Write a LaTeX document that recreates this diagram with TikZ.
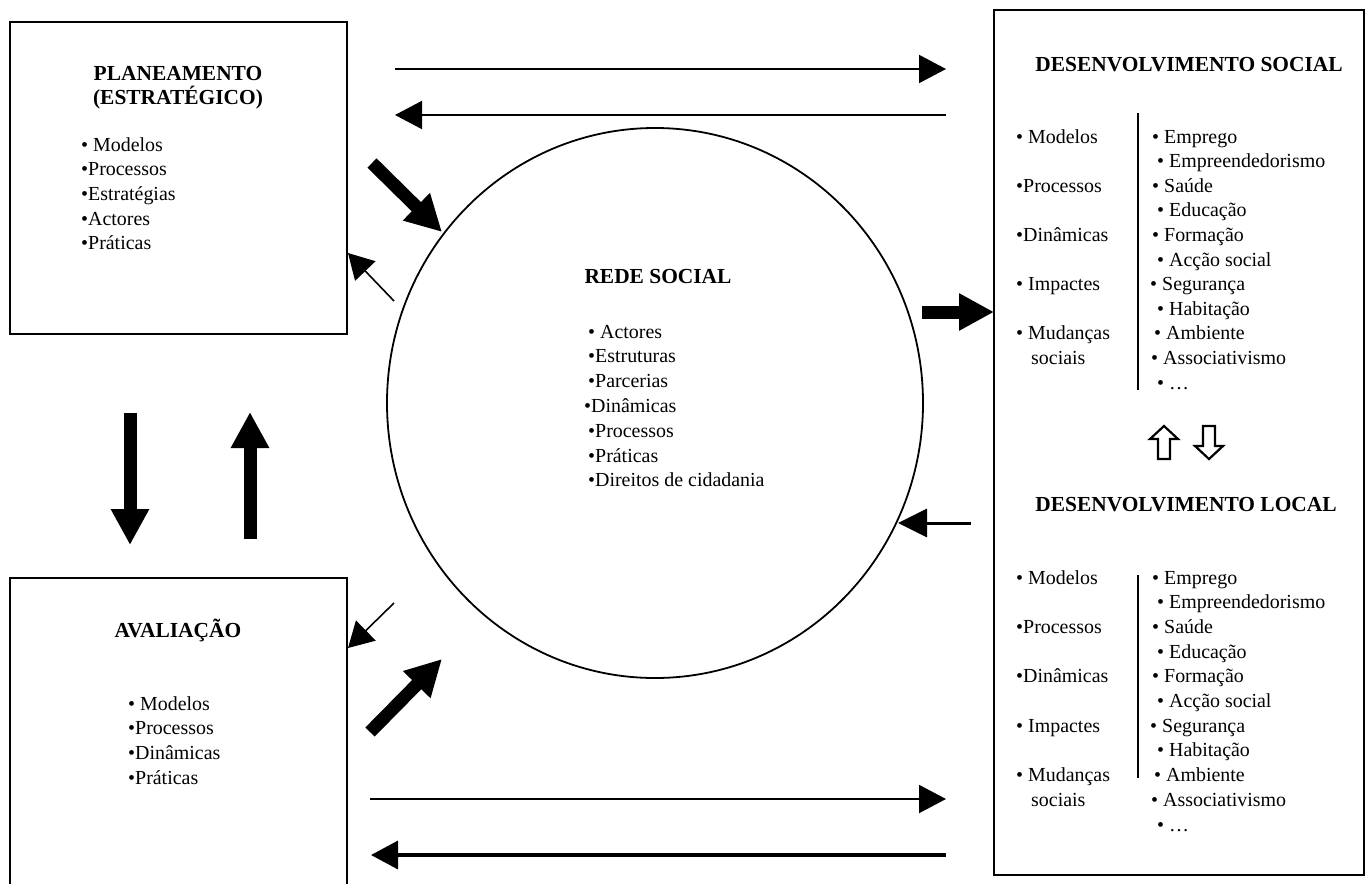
\documentclass[tikz,border=0pt]{standalone}
\usepackage{fontspec}
\setmainfont{Liberation Serif}
\usetikzlibrary{arrows.meta,shapes.geometric}
\begin{document}
\begin{tikzpicture}[x=1bp,y=-1bp,
  txt/.style={anchor=base west, inner sep=0pt, font=\fontsize{20}{24}\selectfont},
  head/.style={anchor=base, inner sep=0pt, font=\fontsize{21.5}{24}\selectfont\bfseries},
  box/.style={line width=2.5bp},
  thinarrow/.style={line width=2bp, -{Triangle[length=27bp,width=28bp]}},
  diagarrow/.style={line width=1.6bp, -{Triangle[length=25bp,width=28bp]}},
  thickarrow/.style={line width=13bp, -{Triangle[length=36bp,width=36bp]}},
  hollow/.style={line width=2.2bp, line join=miter, fill=white},
]
\useasboundingbox (0,0) rectangle (1367,883);

% boxes
\draw[box] (10,22) rectangle (347,334);
\draw[box] (10,890) -- (10,578) -- (347,578) -- (347,890);
\draw[box] (994,10) rectangle (1364,875);

% ellipse
\node[draw, line width=1.8bp, ellipse, minimum width=536bp, minimum height=550bp, inner sep=0pt] (rede) at (655,403) {};

% planeamento
\node[head] (plh1) at (178,80) {PLANEAMENTO};
\node[head] (plh2) at (178,104) {(ESTRATÉGICO)};
\foreach \t [count=\i] in {{• Modelos},{•Processos},{•Estratégias},{•Actores},{•Práticas}}
  \node[txt] (pl\i) at ({81},{151+24.7*(\i-1)}) {\t};

% avaliacao
\node[head] (avh) at (178,637) {AVALIAÇÃO};
\foreach \t [count=\i] in {{• Modelos},{•Processos},{•Dinâmicas},{•Práticas}}
  \node[txt] (av\i) at ({128},{710+24.7*(\i-1)}) {\t};

% rede social
\node[head] (rsh) at (658,283) {REDE SOCIAL};
\foreach \dx/\t [count=\i] in {4/{• Actores},4/{•Estruturas},4/{•Parcerias},0/{•Dinâmicas},4/{•Processos},4/{•Práticas},4/{•Direitos de cidadania}}
  \node[txt] (rs\i) at ({584+\dx},{338+24.8*(\i-1)}) {\t};

% desenvolvimento social
\node[head] (dsh) at (1189,71) {DESENVOLVIMENTO SOCIAL};
\foreach \yy/\t [count=\i] in {0/{• Modelos},2/{•Processos},4/{•Dinâmicas},6/{• Impactes},8/{• Mudanças}}
  \node[txt] (dsl\i) at ({1016},{143+24.6*\yy}) {\t};
\node[txt] (dsl6) at (1031,{143+24.6*9}) {sociais};
\foreach \dx/\t [count=\i] in {2/{• Emprego},7/{• Empreendedorismo},2/{• Saúde},7/{• Educação},2/{• Formação},7/{• Acção social},0/{• Segurança},7/{• Habitação},4/{• Ambiente},1/{• Associativismo},7/{• …}}
  \node[txt] (dsr\i) at ({1150+\dx},{143+24.6*(\i-1)}) {\t};
\coordinate (dsv1) at (1138,113);
\coordinate (dsv2) at (1138,390);
\draw[line width=2bp] (dsv1) -- (dsv2);

% hollow arrows
\draw[hollow] (1164,426) -- (1178,439) -- (1170,439) -- (1170,459) -- (1158,459) -- (1158,439) -- (1150,439) -- cycle;
\draw[hollow] (1209,459) -- (1223,446) -- (1215,446) -- (1215,426) -- (1203,426) -- (1203,446) -- (1195,446) -- cycle;

% desenvolvimento local
\node[head] (dlh) at (1186,511) {DESENVOLVIMENTO LOCAL};
\foreach \yy/\t [count=\i] in {0/{• Modelos},2/{•Processos},4/{•Dinâmicas},6/{• Impactes},8/{• Mudanças}}
  \node[txt] (dll\i) at ({1016},{584+24.7*\yy}) {\t};
\node[txt] (dll6) at (1031,{584+24.7*9}) {sociais};
\foreach \dx/\t [count=\i] in {2/{• Emprego},7/{• Empreendedorismo},2/{• Saúde},7/{• Educação},2/{• Formação},7/{• Acção social},0/{• Segurança},7/{• Habitação},4/{• Ambiente},1/{• Associativismo},7/{• …}}
  \node[txt] (dlr\i) at ({1150+\dx},{584+24.7*(\i-1)}) {\t};
\coordinate (dlv1) at (1138,575);
\coordinate (dlv2) at (1138,778);
\draw[line width=2bp] (dlv1) -- (dlv2);

% arrows top
\coordinate (t1a) at (395,69);  \coordinate (t1b) at (946,69);
\coordinate (t2a) at (946,115); \coordinate (t2b) at (395,115);
\draw[thinarrow] (t1a) -- (t1b);
\draw[thinarrow] (t2a) -- (t2b);

% diagonal top
\coordinate (d1a) at (372,163); \coordinate (d1b) at (442,232);
\draw[thickarrow] (d1a) -- (d1b);
\coordinate (d2a) at (394,301); \coordinate (d2b) at (348,253);
\draw[diagarrow] (d2a) -- (d2b);

% vertical thick
\coordinate (v1a) at (130,413); \coordinate (v1b) at (130,545);
\coordinate (v2a) at (250,539); \coordinate (v2b) at (250,412);
\draw[thickarrow] (v1a) -- (v1b);
\draw[thickarrow] (v2a) -- (v2b);

% right
\coordinate (r1a) at (922,312); \coordinate (r1b) at (994,312);
\draw[thickarrow, -{Triangle[length=35bp,width=35bp]}] (r1a) -- (r1b);
\coordinate (r2a) at (971,523); \coordinate (r2b) at (898,523);
\draw[line width=3bp, -{Triangle[length=29bp,width=28bp]}] (r2a) -- (r2b);

% diagonal bottom
\coordinate (d3a) at (394,603); \coordinate (d3b) at (348,648);
\draw[diagarrow] (d3a) -- (d3b);
\coordinate (d4a) at (370,732); \coordinate (d4b) at (442,659);
\draw[thickarrow] (d4a) -- (d4b);

% bottom
\coordinate (b1a) at (370,799); \coordinate (b1b) at (946,799);
\draw[thinarrow] (b1a) -- (b1b);
\coordinate (b2a) at (946,855); \coordinate (b2b) at (371,855);
\draw[line width=3.5bp, -{Triangle[length=27bp,width=28bp]}] (b2a) -- (b2b);

\end{tikzpicture}
\end{document}
